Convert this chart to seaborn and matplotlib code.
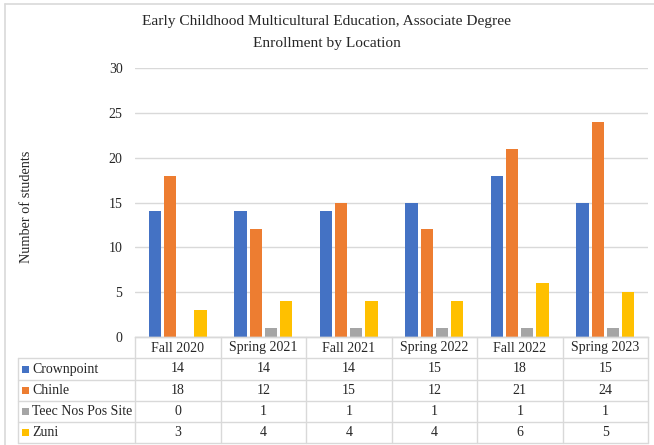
import matplotlib
matplotlib.use("Agg")
import matplotlib.pyplot as plt
import matplotlib.transforms as mtransforms
from matplotlib.lines import Line2D
from matplotlib.patches import Rectangle
import seaborn as sns
import pandas as pd

terms = ["Fall 2020", "Spring 2021", "Fall 2021", "Spring 2022", "Fall 2022", "Spring 2023"]
locations = ["Crownpoint", "Chinle", "Teec Nos Pos Site", "Zuni"]
crownpoint = [14, 14, 14, 15, 18, 15]
chinle = [18, 12, 15, 12, 21, 24]
teec = [0, 1, 1, 1, 1, 1]
zuni = [3, 4, 4, 4, 6, 5]
colors = ["#4472C4", "#ED7D31", "#A5A5A5", "#FFC000"]
title = "Early Childhood Multicultural Education, Associate Degree\nEnrollment by Location"
ylabel = "Number of students"
yticks = [0, 5, 10, 15, 20, 25, 30]

series = [crownpoint, chinle, teec, zuni]
rows = []
for loc, vals in zip(locations, series):
    for t, v in zip(terms, vals):
        rows.append({"Term": t, "Location": loc, "Students": v})
df = pd.DataFrame(rows)

sns.set_theme(style="white")
plt.rcParams["font.family"] = ["Liberation Serif", "DejaVu Serif"]

W, H = 654, 445
fig = plt.figure(figsize=(W / 100, H / 100), dpi=100)
fig.patch.set_facecolor("white")

def fx(px):
    return px / W

def fy(py):
    return 1 - py / H

left, right, top, bottom = 135, 648, 68, 337
ax = fig.add_axes([fx(left), fy(bottom), fx(right - left), (bottom - top) / H])

sns.barplot(data=df, x="Term", y="Students", hue="Location", order=terms,
            hue_order=locations, palette=colors, width=0.71, gap=0.19,
            ax=ax, legend=False, saturation=1, linewidth=0)

ax.set_ylim(0, 30)
ax.set_xlim(-0.5, len(terms) - 0.5)
ax.set_yticks(yticks)
ax.set_yticklabels([str(v) for v in yticks], fontsize=10)
ax.tick_params(axis="y", length=0, pad=9)
ax.set_xticks([])
ax.set_xlabel("")
ax.set_ylabel("")
ax.yaxis.grid(True, color="#D9D9D9", linewidth=1)
ax.set_axisbelow(True)
for s in ["top", "right", "left"]:
    ax.spines[s].set_visible(False)
ax.spines["bottom"].set_color("#D9D9D9")
ax.spines["bottom"].set_linewidth(1)

for k, line in enumerate(title.split("\n")):
    fig.text(fx(327), fy(21.5 + 22.5 * k), line, ha="center", va="center", fontsize=11.1)
fig.text(fx(27), fy(207), ylabel, rotation=90, ha="center", va="center", fontsize=10.3)

# data table below axes
trans = mtransforms.blended_transform_factory(ax.transData, fig.transFigure)
lc = "#D9D9D9"
row_edges = [337, 358, 380, 401, 422, 443]
table_left = 18
n = len(terms)
for i in range(n + 1):
    fig.add_artist(Line2D([i - 0.5, i - 0.5], [fy(337), fy(443)], transform=trans,
                          color=lc, linewidth=1))
for k, yy in enumerate(row_edges):
    x0 = fx(left) if k == 0 else fx(table_left)
    fig.add_artist(Line2D([x0, fx(right)], [fy(yy), fy(yy)], transform=fig.transFigure,
                          color=lc, linewidth=1))
fig.add_artist(Line2D([fx(table_left), fx(table_left)], [fy(358), fy(443)],
                      transform=fig.transFigure, color=lc, linewidth=1))

for i, t in enumerate(terms):
    fig.text(i, fy(348), t, transform=trans, ha="center", va="center", fontsize=10)
for r, (loc, vals, c) in enumerate(zip(locations, series, colors)):
    yc = (row_edges[r + 1] + row_edges[r + 2]) / 2
    fig.add_artist(Rectangle((fx(22), fy(yc) - 3.5 / H), 7 / W, 7 / H,
                             transform=fig.transFigure, facecolor=c, edgecolor="none"))
    fig.text(fx(32), fy(yc), loc, ha="left", va="center", fontsize=10)
    for i, v in enumerate(vals):
        fig.text(i, fy(yc), str(v), transform=trans, ha="center", va="center", fontsize=10)

fig.add_artist(Line2D([fx(5), 1], [fy(3.5), fy(3.5)], transform=fig.transFigure,
                      color="#D9D9D9", linewidth=1.2))
fig.add_artist(Line2D([fx(5), fx(5)], [fy(3.5), 0], transform=fig.transFigure,
                      color="#D9D9D9", linewidth=1.2))

fig.savefig("out.png", dpi=100)
